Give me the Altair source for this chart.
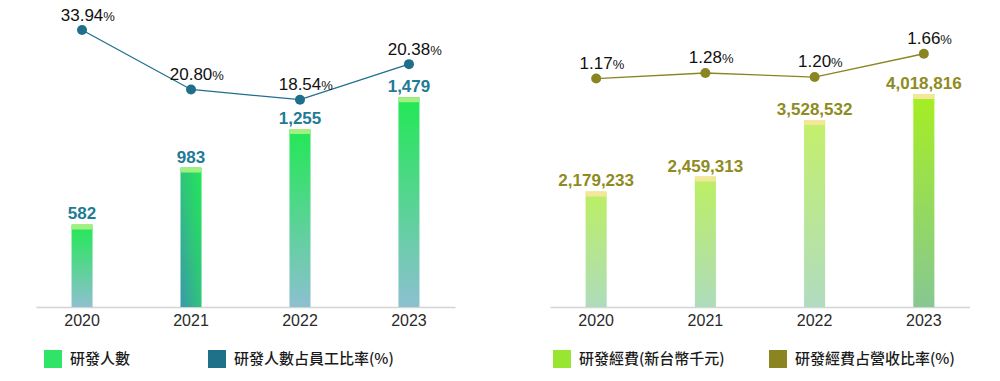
import altair as alt
import pandas as pd

# ---- data ----
years = ["2020", "2021", "2022", "2023"]
rd_staff = [582, 983, 1255, 1479]
staff_ratio_text = ["33.94", "20.80", "18.54", "20.38"]
staff_ratio_drawn = [33.94, 20.80, 18.54, 26.4]  # heights of the points as drawn in the reference
rd_expense = [2179233, 2459313, 3528532, 4018816]
expense_ratio_text = ["1.17", "1.28", "1.20", "1.66"]
expense_ratio = [1.17, 1.28, 1.20, 1.66]
left_series = ["研發人數", "研發人數占員工比率(%)"]
right_series = ["研發經費(新台幣千元)", "研發經費占營收比率(%)"]

NUM_FONT = "Liberation Sans"
CJK_FONT = "Noto Sans CJK TC"


def grad(top, bottom, diagonal=False, mid=None):
    stops = [alt.GradientStop(color=top, offset=0)]
    if mid:
        stops.append(alt.GradientStop(color=mid, offset=0.5))
    stops.append(alt.GradientStop(color=bottom, offset=1))
    if diagonal:
        return alt.LinearGradient(gradient="linear", stops=stops, x1=1, y1=0, x2=0, y2=1)
    return alt.LinearGradient(gradient="linear", stops=stops, x1=0, y1=0, x2=0, y2=1)


def panel(df, width, bar_dom, line_dom, grads, cap_color, label_color, line_color,
          series, series_colors, legend_x, col_pad, pct_dx, pct_dy):
    x = alt.X(
        "year:N", sort=years, title=None,
        scale=alt.Scale(paddingInner=0.807, paddingOuter=0.326),
        axis=alt.Axis(labelAngle=0, labelFont=NUM_FONT, labelFontSize=16,
                      labelColor="#2a2a2a", labelPadding=5, ticks=False,
                      domainColor="#d4d4d4", domainWidth=1.5, grid=False),
    )
    base = alt.Chart(df).encode(x=x)
    ybar = alt.Y("val:Q", scale=alt.Scale(domain=bar_dom, nice=False), axis=None)
    yline = alt.Y("ratio:Q", scale=alt.Scale(domain=line_dom, nice=False, zero=False), axis=None)

    layers = []
    for yr, g in zip(years, grads):
        layers.append(base.transform_filter(alt.datum.year == yr).mark_bar(color=g).encode(y=ybar))
    layers.append(base.mark_tick(color=cap_color, thickness=5, size=21, yOffset=2.5,
                                 cornerRadius=1.5, opacity=1).encode(y=ybar))
    layers.append(base.mark_text(font=NUM_FONT, fontSize=17, fontWeight="bold",
                                 color=label_color, baseline="alphabetic", dy=-5)
                  .encode(y=ybar, text=alt.Text("val:Q", format=",")))
    layers.append(base.mark_line(color=line_color, strokeWidth=1.3).encode(y=yline))
    layers.append(base.mark_circle(color=line_color, size=100, opacity=1).encode(y=yline))
    layers.append(base.mark_text(font=NUM_FONT, fontSize=17, color="#111111",
                                 baseline="alphabetic", dy=pct_dy)
                  .encode(y=yline, text="label:N"))
    layers.append(base.mark_text(font=NUM_FONT, fontSize=13, color="#111111", align="left",
                                 baseline="alphabetic", dy=pct_dy, dx=pct_dx)
                  .encode(y=yline, text=alt.value("%")))
    legend_layer = alt.Chart(pd.DataFrame({"series": series})).transform_filter("false").mark_square().encode(
        color=alt.Color("series:N", scale=alt.Scale(domain=series, range=series_colors),
                        legend=alt.Legend(title=None, orient="none", legendX=legend_x, legendY=350,
                                          direction="horizontal", columns=2, symbolType="square",
                                          symbolSize=324, symbolStrokeWidth=0, symbolOpacity=1,
                                          labelFont=CJK_FONT, labelFontSize=15, labelFontWeight=500,
                                          labelColor="#1a1a1a",
                                          labelOffset=8, columnPadding=col_pad, padding=0,
                                          labelLimit=400))
    )
    layers.append(legend_layer)
    return alt.layer(*layers).resolve_scale(y="independent").properties(width=width, height=307)


left_df = pd.DataFrame({"year": years, "val": rd_staff, "ratio": staff_ratio_drawn,
                        "label": staff_ratio_text})
right_df = pd.DataFrame({"year": years, "val": rd_expense, "ratio": expense_ratio,
                         "label": expense_ratio_text})

left_grads = [
    grad("#22e855", "#8ec0cf"),
    grad("#22e855", "#3a98aa", diagonal=True, mid="#2fc47c"),
    grad("#22e855", "#8cc0d0"),
    grad("#22e855", "#8cc0d0"),
]
right_grads = [
    grad("#bcef62", "#aedcbc"),
    grad("#bcef62", "#aedcbc"),
    grad("#c4f06a", "#b0dcc0"),
    grad("#a6ee22", "#86c892"),
]

left = panel(left_df, 419, [0, 2164], [-27.26, 40.57], left_grads, "#a3ef82", "#1f7b96",
             "#1f6f8c", left_series, ["#2fe466", "#1f7089"], 8, 77, 21.3, -9.5)
right = panel(right_df, 420, [0, 5791000], [-3.335, 2.720], right_grads, "#f5e79a", "#8e8b22",
              "#8b8521", right_series, ["#98e632", "#8b8521"], 3, 44, 16.5, -10)

chart = alt.hconcat(left, right, spacing=95).resolve_scale(color="independent").properties(
    padding={"left": 36, "top": 0, "right": 0, "bottom": 0}
).configure_view(stroke=None)

chart.save("out.html", embed_options={"renderer": "svg", "actions": False})
